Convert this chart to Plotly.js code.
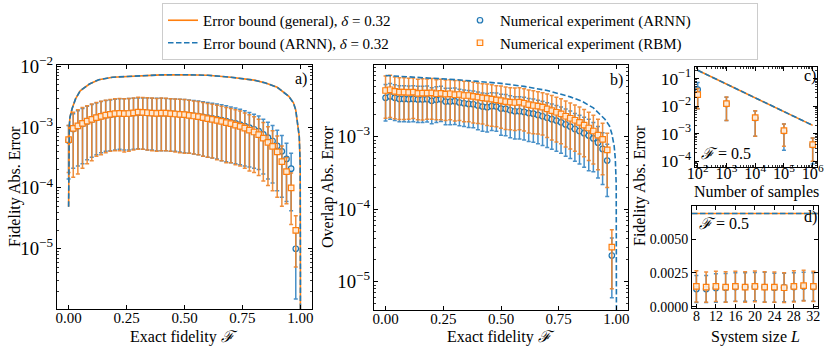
<!DOCTYPE html>
<html>
<head>
<meta charset="utf-8">
<script src="https://cdn.plot.ly/plotly-3.0.1.min.js"></script>
<style>
  body { margin: 0; background: white; }
  #chart { width: 830px; height: 351px; }
</style>
</head>
<body>
<div id="chart"></div>
<script>
// Exact fidelity grid used in panels a) and b)
const fidelity = [0, 0.02, 0.04, 0.06, 0.08, 0.1, 0.12, 0.14, 0.16, 0.18, 0.2, 0.22, 0.24, 0.26, 0.28, 0.3, 0.32, 0.34, 0.36, 0.38,
    0.4, 0.42, 0.44, 0.46, 0.48, 0.5, 0.52, 0.54, 0.56, 0.58, 0.6, 0.62, 0.64, 0.66, 0.68, 0.7, 0.72, 0.74, 0.76, 0.78,
    0.8, 0.82, 0.84, 0.86, 0.88, 0.9, 0.92, 0.94, 0.96, 0.98];

// a) fidelity abs. error
const fidArnnMean = [6.0e-4, 9.3e-4, 1.04e-3, 1.13e-3, 1.24e-3, 1.33e-3, 1.42e-3, 1.50e-3, 1.56e-3, 1.60e-3, 1.64e-3, 1.67e-3, 1.67e-3, 1.68e-3, 1.70e-3, 1.72e-3, 1.72e-3, 1.71e-3, 1.70e-3, 1.69e-3,
    1.69e-3, 1.68e-3, 1.66e-3, 1.65e-3, 1.63e-3, 1.61e-3, 1.58e-3, 1.55e-3, 1.52e-3, 1.47e-3, 1.43e-3, 1.39e-3, 1.35e-3, 1.30e-3, 1.25e-3, 1.20e-3, 1.15e-3, 1.10e-3, 1.04e-3, 9.8e-4,
    9.2e-4, 8.6e-4, 7.6e-4, 6.7e-4, 5.9e-4, 4.9e-4, 4.0e-4, 3.0e-4, 2.07e-4, 1.0e-5];
const fidArnnStd = [4.6e-4, 7.2e-4, 8.1e-4, 8.8e-4, 9.5e-4, 1.01e-3, 1.07e-3, 1.12e-3, 1.16e-3, 1.19e-3, 1.22e-3, 1.24e-3, 1.25e-3, 1.26e-3, 1.27e-3, 1.28e-3, 1.29e-3, 1.29e-3, 1.28e-3, 1.28e-3,
    1.28e-3, 1.27e-3, 1.26e-3, 1.25e-3, 1.24e-3, 1.23e-3, 1.21e-3, 1.19e-3, 1.17e-3, 1.14e-3, 1.11e-3, 1.08e-3, 1.05e-3, 1.02e-3, 9.8e-4, 9.4e-4, 9.0e-4, 8.6e-4, 8.1e-4, 7.6e-4,
    7.1e-4, 6.6e-4, 5.9e-4, 5.3e-4, 4.7e-4, 4.0e-4, 3.3e-4, 2.4e-4, 1.65e-4, 8.5e-6];
const fidRbmMean = [6.2e-4, 9.5e-4, 1.05e-3, 1.15e-3, 1.25e-3, 1.34e-3, 1.43e-3, 1.50e-3, 1.57e-3, 1.62e-3, 1.66e-3, 1.68e-3, 1.66e-3, 1.67e-3, 1.71e-3, 1.76e-3, 1.74e-3, 1.72e-3, 1.70e-3, 1.68e-3,
    1.70e-3, 1.69e-3, 1.66e-3, 1.64e-3, 1.62e-3, 1.60e-3, 1.56e-3, 1.52e-3, 1.49e-3, 1.43e-3, 1.38e-3, 1.34e-3, 1.29e-3, 1.24e-3, 1.18e-3, 1.14e-3, 1.08e-3, 1.03e-3, 9.6e-4, 8.9e-4,
    8.3e-4, 7.5e-4, 6.6e-4, 5.6e-4, 4.8e-4, 3.9e-4, 2.7e-4, 1.85e-4, 1.0e-4, 2.0e-5];
const fidRbmStd = [4.4e-4, 8.0e-4, 8.8e-4, 9.4e-4, 1.0e-3, 1.06e-3, 1.10e-3, 1.15e-3, 1.19e-3, 1.22e-3, 1.25e-3, 1.27e-3, 1.27e-3, 1.27e-3, 1.29e-3, 1.33e-3, 1.31e-3, 1.30e-3, 1.29e-3, 1.28e-3,
    1.29e-3, 1.28e-3, 1.26e-3, 1.25e-3, 1.24e-3, 1.23e-3, 1.19e-3, 1.16e-3, 1.14e-3, 1.10e-3, 1.06e-3, 1.03e-3, 1.0e-3, 9.6e-4, 9.2e-4, 8.8e-4, 8.4e-4, 8.0e-4, 7.5e-4, 7.0e-4,
    6.5e-4, 5.9e-4, 5.3e-4, 4.5e-4, 3.9e-4, 3.2e-4, 2.2e-4, 1.3e-4, 7.5e-5, 1.5e-5];

// a) error bound curve (general and ARNN coincide)
const fidBoundF = [0.0001, 0.001, 0.003, 0.006, 0.015, 0.03, 0.05, 0.09, 0.13, 0.19, 0.3, 0.4, 0.5,
    0.6, 0.7, 0.8, 0.85, 0.9, 0.95, 0.97, 0.98, 0.99, 0.995, 0.999, 0.9999, 0.99999, 0.999999, 0.9999999];
const fidBound = [4.9e-5, 6.0e-4, 1.04e-3, 1.45e-3, 2.0e-3, 2.9e-3, 3.95e-3, 5.1e-3, 6.0e-3, 6.6e-3, 7.0e-3, 7.2e-3, 7.25e-3,
    7.1e-3, 6.6e-3, 5.9e-3, 5.3e-3, 4.5e-3, 3.2e-3, 2.5e-3, 1.9e-3, 1.1e-3, 7.0e-4, 2.5e-4, 7.0e-5, 2.0e-5, 5.0e-6, 5.0e-7];

// b) overlap abs. error
const ovlArnnMean = [3.45e-3, 3.6e-3, 3.45e-3, 3.33e-3, 3.33e-3, 3.3e-3, 3.33e-3, 3.27e-3, 3.27e-3, 3.3e-3, 3.13e-3, 3.23e-3, 3.3e-3, 3.06e-3, 3.06e-3, 3.1e-3, 2.97e-3, 2.9e-3, 2.84e-3, 2.81e-3,
    2.7e-3, 2.61e-3, 2.56e-3, 2.64e-3, 2.61e-3, 2.45e-3, 2.43e-3, 2.32e-3, 2.25e-3, 2.25e-3, 2.2e-3, 2.12e-3, 2.08e-3, 2.0e-3, 1.92e-3, 1.83e-3, 1.75e-3, 1.67e-3, 1.58e-3, 1.48e-3,
    1.38e-3, 1.28e-3, 1.2e-3, 1.12e-3, 1.04e-3, 9.5e-4, 8.3e-4, 6.8e-4, 4.7e-4, 2.3e-5];
const ovlArnnStd = [1.8e-3, 1.85e-3, 1.78e-3, 1.72e-3, 1.72e-3, 1.7e-3, 1.72e-3, 1.7e-3, 1.7e-3, 1.7e-3, 1.62e-3, 1.66e-3, 1.68e-3, 1.6e-3, 1.6e-3, 1.62e-3, 1.55e-3, 1.52e-3, 1.5e-3, 1.48e-3,
    1.45e-3, 1.42e-3, 1.4e-3, 1.42e-3, 1.42e-3, 1.4e-3, 1.4e-3, 1.35e-3, 1.32e-3, 1.32e-3, 1.3e-3, 1.26e-3, 1.24e-3, 1.2e-3, 1.16e-3, 1.12e-3, 1.08e-3, 1.04e-3, 9.9e-4, 9.4e-4,
    8.8e-4, 8.2e-4, 7.8e-4, 7.4e-4, 7.0e-4, 6.2e-4, 5.6e-4, 4.6e-4, 3.2e-4, 1.7e-5];
const ovlRbmMean = [4.35e-3, 4.45e-3, 4.22e-3, 4.13e-3, 4.13e-3, 4.09e-3, 4.13e-3, 3.96e-3, 4.0e-3, 4.0e-3, 4.04e-3, 3.92e-3, 3.96e-3, 3.88e-3, 3.92e-3, 3.8e-3, 3.83e-3, 3.71e-3, 3.71e-3, 3.6e-3,
    3.52e-3, 3.45e-3, 3.38e-3, 3.3e-3, 3.22e-3, 3.16e-3, 3.06e-3, 3.0e-3, 2.97e-3, 3.0e-3, 2.9e-3, 2.78e-3, 2.7e-3, 2.64e-3, 2.56e-3, 2.43e-3, 2.3e-3, 2.18e-3, 2.07e-3, 1.92e-3,
    1.8e-3, 1.69e-3, 1.58e-3, 1.45e-3, 1.32e-3, 1.2e-3, 1.05e-3, 9.2e-4, 6.6e-4, 3.0e-5];
const ovlRbmStd = [2.55e-3, 2.6e-3, 2.45e-3, 2.4e-3, 2.4e-3, 2.35e-3, 2.35e-3, 2.25e-3, 2.3e-3, 2.25e-3, 2.3e-3, 2.2e-3, 2.25e-3, 2.2e-3, 2.2e-3, 2.15e-3, 2.15e-3, 2.1e-3, 2.1e-3, 2.05e-3,
    2.0e-3, 1.95e-3, 1.95e-3, 1.9e-3, 1.85e-3, 1.85e-3, 1.8e-3, 1.75e-3, 1.75e-3, 1.75e-3, 1.7e-3, 1.65e-3, 1.6e-3, 1.55e-3, 1.5e-3, 1.45e-3, 1.4e-3, 1.33e-3, 1.27e-3, 1.2e-3,
    1.12e-3, 1.06e-3, 1.0e-3, 9.2e-4, 8.5e-4, 7.8e-4, 7.0e-4, 6.2e-4, 4.6e-4, 2.2e-5];

// b) error bound (ARNN)
const ovlBoundF = [0, 0.1, 0.2, 0.3, 0.4, 0.5, 0.6, 0.7, 0.8, 0.85, 0.9, 0.95, 0.97, 0.98, 0.99, 0.995, 0.999, 0.9999, 0.99999, 0.999999, 0.9999999];
const ovlBound = [7.0e-3, 6.75e-3, 6.45e-3, 6.15e-3, 5.8e-3, 5.45e-3, 4.95e-3, 4.35e-3, 3.55e-3, 3.1e-3, 2.5e-3, 1.75e-3, 1.4e-3, 1.1e-3, 7.5e-4, 5.0e-4, 2.2e-4, 7.0e-5, 2.2e-5, 7.0e-6, 2.2e-6];

// c) number of samples, F = 0.5
const samples = [1e2, 1e3, 1e4, 1e5, 1e6];
const sampArnnMean = [4.0e-2, 1.2e-2, 3.7e-3, 1.25e-3, 3.9e-4];
const sampArnnStd = [3.2e-2, 9.0e-3, 2.9e-3, 1.0e-3, 3.1e-4];
const sampRbmMean = [2.6e-2, 1.23e-2, 3.8e-3, 1.3e-3, 4.0e-4];
const sampRbmStd = [1.8e-2, 9.3e-3, 3.0e-3, 9.5e-4, 3.0e-4];
const sampBound = [0.2, 0.063, 0.02, 0.0063, 0.002];

// d) system size, F = 0.5
const sizes = [8, 10, 12, 14, 16, 18, 20, 22, 24, 26, 28, 30, 32];
const sizeArnnMean = [1.3e-3, 1.3e-3, 1.38e-3, 1.4e-3, 1.45e-3, 1.45e-3, 1.48e-3, 1.45e-3, 1.4e-3, 1.42e-3, 1.45e-3, 1.5e-3, 1.45e-3];
const sizeArnnStd = [1.0e-3, 1.0e-3, 1.05e-3, 1.05e-3, 1.05e-3, 1.05e-3, 1.05e-3, 1.1e-3, 1.08e-3, 1.05e-3, 1.05e-3, 1.05e-3, 1.05e-3];
const sizeRbmMean = [1.5e-3, 1.45e-3, 1.5e-3, 1.45e-3, 1.5e-3, 1.45e-3, 1.5e-3, 1.45e-3, 1.45e-3, 1.4e-3, 1.5e-3, 1.55e-3, 1.5e-3];
const sizeRbmStd = [1.15e-3, 1.12e-3, 1.12e-3, 1.13e-3, 1.12e-3, 1.13e-3, 1.13e-3, 1.13e-3, 1.12e-3, 1.1e-3, 1.15e-3, 1.14e-3, 1.12e-3];
const sizeBound = 0.0069;

const BLUE = '#1f77b4';
const ORANGE = '#ff7f0e';
const FONT = 'Liberation Serif, DejaVu Serif, serif';

const NAMES = {
    general: 'Error bound (general), <i>δ</i> = 0.32',
    arnnBound: 'Error bound (ARNN), <i>δ</i> = 0.32',
    arnn: 'Numerical experiment (ARNN)',
    rbm: 'Numerical experiment (RBM)'
};

// helpers for the four trace kinds
function generalLine(x, y, ax, legend) {
    return { x, y, xaxis: 'x' + ax, yaxis: 'y' + ax, mode: 'lines', name: NAMES.general,
        line: { color: ORANGE, width: 1.6 }, showlegend: legend, legendrank: 1 };
}
function arnnLine(x, y, ax, legend) {
    return { x, y, xaxis: 'x' + ax, yaxis: 'y' + ax, mode: 'lines', name: NAMES.arnnBound,
        line: { color: BLUE, width: 1.6, dash: '5.5px,2.5px' }, showlegend: legend, legendrank: 3 };
}
function arnnPoints(x, y, err, ax, legend) {
    return { x, y, xaxis: 'x' + ax, yaxis: 'y' + ax, mode: 'markers', name: NAMES.arnn,
        marker: { symbol: 'circle', size: 5.5, color: 'rgba(235,243,250,0.9)', line: { color: BLUE, width: 1.2 } },
        error_y: { type: 'data', array: err, color: 'rgba(40,125,190,0.85)', thickness: 1.5, width: 2 },
        showlegend: legend, legendrank: 2 };
}
function rbmPoints(x, y, err, ax, legend) {
    return { x, y, xaxis: 'x' + ax, yaxis: 'y' + ax, mode: 'markers', name: NAMES.rbm,
        marker: { symbol: 'square', size: 5.5, color: 'rgba(255,238,222,0.9)', line: { color: ORANGE, width: 1.2 } },
        error_y: { type: 'data', array: err, color: 'rgba(238,132,42,0.92)', thickness: 1.5, width: 2 },
        showlegend: legend, legendrank: 4 };
}

const data = [
    arnnPoints(fidelity, fidArnnMean, fidArnnStd, '', false),
    rbmPoints(fidelity, fidRbmMean, fidRbmStd, '', false),
    generalLine(fidBoundF, fidBound, '', false),
    arnnLine(fidBoundF, fidBound, '', false),

    arnnPoints(fidelity, ovlArnnMean, ovlArnnStd, '2', false),
    rbmPoints(fidelity, ovlRbmMean, ovlRbmStd, '2', false),
    arnnLine(ovlBoundF, ovlBound, '2', false),

    generalLine(samples, sampBound, '3', true),
    arnnLine(samples, sampBound, '3', true),
    arnnPoints(samples, sampArnnMean, sampArnnStd, '3', true),
    rbmPoints(samples, sampRbmMean, sampRbmStd, '3', true),

    arnnPoints(sizes, sizeArnnMean, sizeArnnStd, '4', false),
    rbmPoints(sizes, sizeRbmMean, sizeRbmStd, '4', false)
];

const W = 830, H = 351;
const px = (a, b) => [a / W, b / W];
const py = (top, bottom) => [1 - bottom / H, 1 - top / H];

function axis(extra, size) {
    return Object.assign({
        showline: true, linecolor: '#000', linewidth: 1, mirror: 'ticks',
        ticks: 'inside', ticklen: 4, tickwidth: 1, tickcolor: '#000',
        showgrid: false, zeroline: false,
        tickfont: { family: FONT, size: size || 15, color: '#000' }
    }, extra);
}
const minorLog = { ticks: 'inside', ticklen: 2, tickwidth: 0.8, tickcolor: '#000', showgrid: false };

const layout = {
    width: W, height: H,
    margin: { l: 0, r: 0, t: 0, b: 0 },
    paper_bgcolor: 'white', plot_bgcolor: 'white',
    font: { family: FONT, size: 15, color: '#000' },
    showlegend: true,
    legend: {
        orientation: 'h', x: 162 / W, xanchor: 'left', y: 1 - 3 / H, yanchor: 'top',
        entrywidth: 252, traceorder: 'normal',
        bgcolor: 'white', bordercolor: '#cccccc', borderwidth: 1,
        font: { family: FONT, size: 15, color: '#000' }
    },
    xaxis: axis({ domain: px(57, 312), range: [-0.05, 1.05], tick0: 0, dtick: 0.25, tickformat: '.2f', ticklabelstandoff: -5, anchor: 'y' }),
    yaxis: axis({ domain: py(65, 309), type: 'log', range: [-5.99, -1.98], dtick: 1, exponentformat: 'power', minor: minorLog, anchor: 'x' }),
    xaxis2: axis({ domain: px(374, 628), range: [-0.05, 1.05], tick0: 0, dtick: 0.25, tickformat: '.2f', ticklabelstandoff: -5, anchor: 'y2' }),
    yaxis2: axis({ domain: py(65, 310), type: 'log', range: [-5.39, -2.01], dtick: 1, exponentformat: 'power', minor: minorLog, anchor: 'x2' }),
    xaxis3: axis({ domain: px(695, 817), type: 'log', range: [1.906, 6.15], dtick: 1, exponentformat: 'power', minor: minorLog, ticklabelstandoff: -8, anchor: 'y3' }, 13),
    yaxis3: axis({ domain: py(67, 167), type: 'log', range: [-4.21, -0.58], dtick: 1, exponentformat: 'power', minor: minorLog, anchor: 'x3' }, 14),
    xaxis4: axis({ domain: px(692, 818), range: [7.1, 32.95], tickvals: [8, 12, 16, 20, 24, 28, 32], ticklabelstandoff: -5, anchor: 'y4' }, 14),
    yaxis4: axis({ domain: py(206, 308), range: [-0.0001, 0.00745], tickvals: [0, 0.0025, 0.005], tickformat: '.4f', anchor: 'x4' }, 14),
    shapes: [
        { type: 'line', xref: 'x4 domain', yref: 'y4', x0: 0, x1: 1, y0: sizeBound, y1: sizeBound, line: { color: ORANGE, width: 1.6 } },
        { type: 'line', xref: 'x4 domain', yref: 'y4', x0: 0, x1: 1, y0: sizeBound, y1: sizeBound, line: { color: BLUE, width: 1.6, dash: '5.5px,2.5px' } }
    ],
    annotations: []
};

function text(str, x, y, opts) {
    layout.annotations.push(Object.assign({
        text: str, xref: 'paper', yref: 'paper', x: x / W, y: 1 - y / H,
        showarrow: false, xanchor: 'center', yanchor: 'middle',
        font: { family: FONT, size: 16, color: '#000' }
    }, opts || {}));
}

// axis titles
text('Fidelity Abs. Error', 15, 187, { textangle: -90 });
text('Exact fidelity <i>ℱ</i>', 184, 337);
text('Overlap Abs. Error', 328, 187, { textangle: -90 });
text('Exact fidelity <i>ℱ</i>', 501, 337);
text('Number of samples', 756, 192);
text('Fidelity Abs. Error', 640, 186, { textangle: -90 });
text('System size <i>L</i>', 755, 337);

// panel labels
text('a)', 301, 79);
text('b)', 616, 80);
text('c)', 810, 76);
text('d)', 810, 217);
text('<i>ℱ</i> = 0.5', 699, 153, { xanchor: 'left' });
text('<i>ℱ</i> = 0.5', 697, 223, { xanchor: 'left' });

Plotly.newPlot('chart', data, layout, { staticPlot: true });
</script>
</body>
</html>
